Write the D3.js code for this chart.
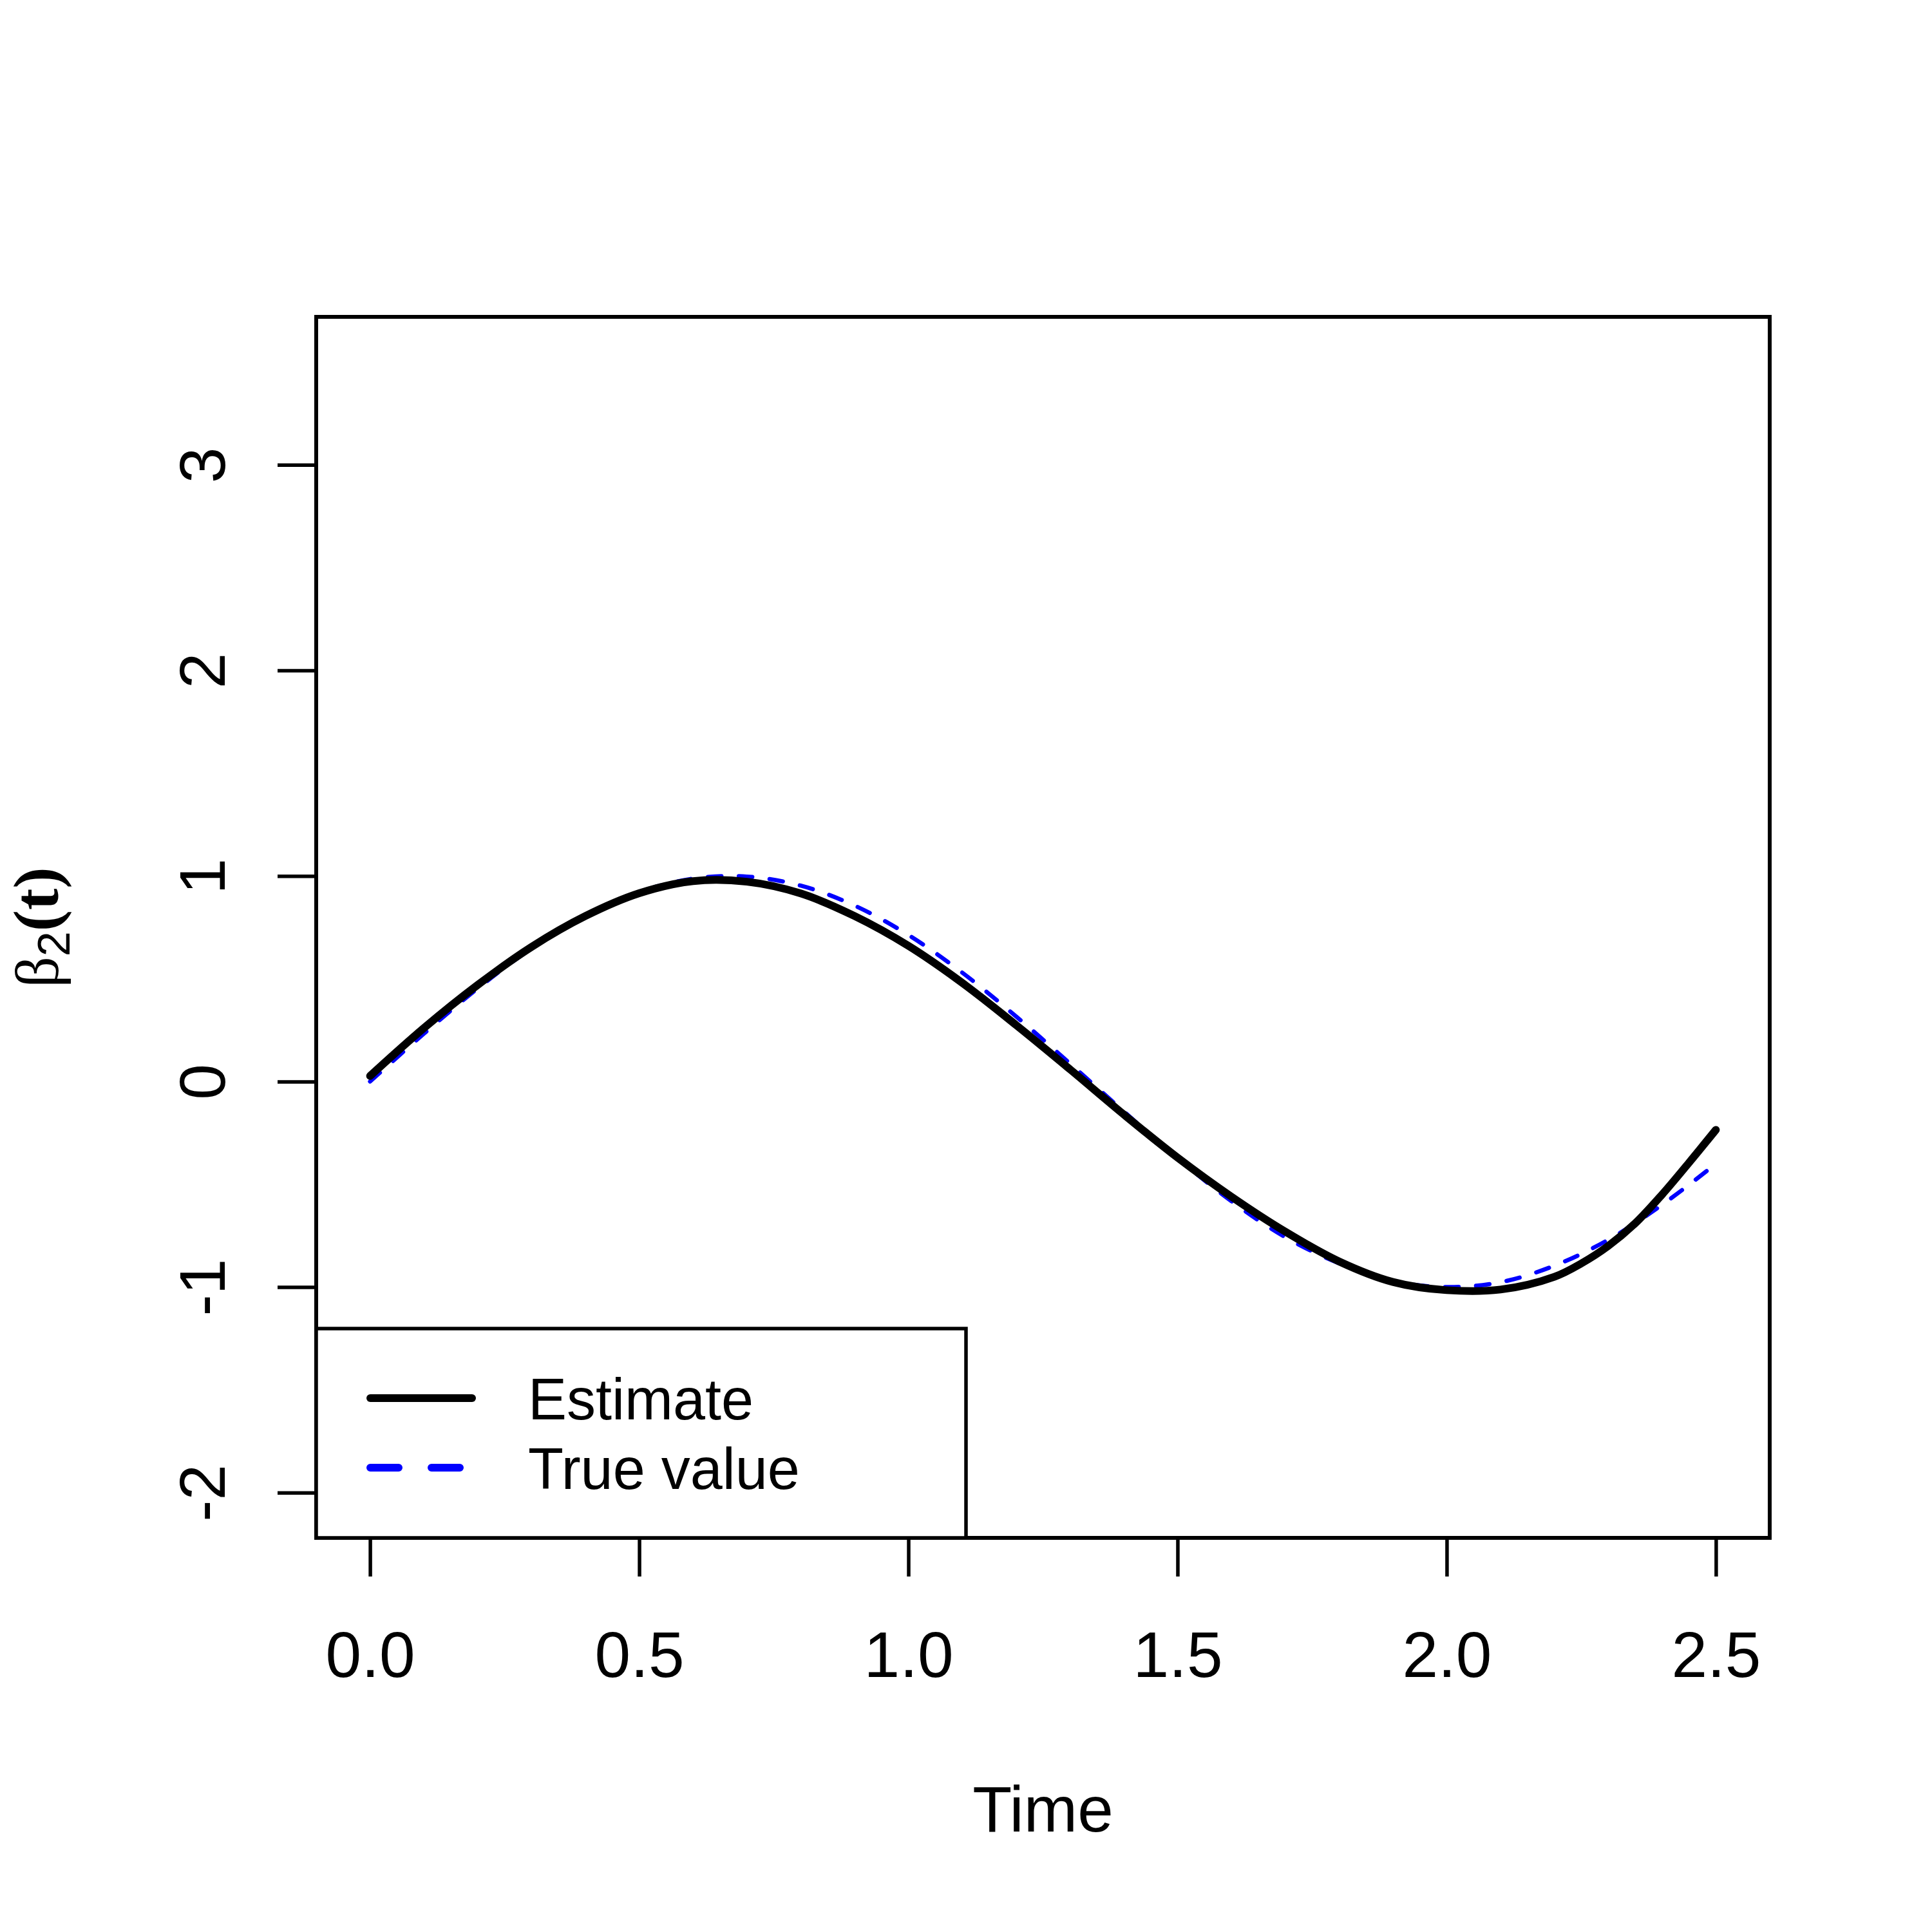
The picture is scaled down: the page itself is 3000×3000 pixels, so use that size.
<!DOCTYPE html>
<html>
<head>
<meta charset="utf-8">
<script src="https://cdn.jsdelivr.net/npm/d3@7"></script>
<style>
html,body{margin:0;padding:0;background:#fff;}
svg{display:block;}
</style>
</head>
<body>
<svg id="chart" width="3000" height="3000"></svg>
<script>
// ---- data ----
const timeEstimate = [0.0,0.1,0.2,0.3,0.4,0.5,0.6,0.7,0.8,0.9,1.0,1.1,1.2,1.3,1.4,1.5,1.6,1.7,1.8,1.9,2.0,2.1,2.2,2.25,2.3,2.35,2.4,2.45,2.5];
const estimateValues = [0.027,0.26,0.47,0.655,0.805,0.916,0.975,0.972,0.915,0.805,0.66,0.48,0.275,0.06,-0.16,-0.37,-0.56,-0.73,-0.875,-0.975,-1.015,-1.012,-0.95,-0.885,-0.80,-0.69,-0.55,-0.395,-0.235];
const timeTrue = [0.0,0.1,0.2,0.3,0.4,0.5,0.6,0.7,0.8,0.9,1.0,1.1,1.2,1.3,1.4,1.5,1.6,1.7,1.8,1.9,2.0,2.1,2.2,2.3,2.4,2.5];
const trueValues = [0.0,0.233,0.453,0.648,0.807,0.922,0.987,0.997,0.953,0.856,0.713,0.53,0.317,0.088,-0.145,-0.373,-0.582,-0.757,-0.884,-0.97,-1.0,-0.976,-0.896,-0.77,-0.6,-0.4];
const xTicks = [0.0,0.5,1.0,1.5,2.0,2.5];
const xTickLabels = ["0.0","0.5","1.0","1.5","2.0","2.5"];
const yTicks = [-2,-1,0,1,2,3];
const yTickLabels = ["-2","-1","0","1","2","3"];
const xLimits = [0, 2.5];
const yLimits = [-2, 3.5];
const legendLabels = ["Estimate","True value"];
const xLabel = "Time";

// ---- layout ----
const W = 3000, H = 3000;
const plotL = 491, plotR = 2748, plotT = 492, plotB = 2388;
const svg = d3.select("#chart");
svg.append("rect").attr("width",W).attr("height",H).attr("fill","#fff");

const xPad = (xLimits[1]-xLimits[0])*0.04, yPad = (yLimits[1]-yLimits[0])*0.04;
const x = d3.scaleLinear().domain([xLimits[0]-xPad, xLimits[1]+xPad]).range([plotL, plotR]);
const y = d3.scaleLinear().domain([yLimits[0]-yPad, yLimits[1]+yPad]).range([plotB, plotT]);

const sans = "'Liberation Sans', Arial, Helvetica, sans-serif";

// x axis
const gx = svg.append("g").attr("transform",`translate(0,${plotB})`)
  .call(d3.axisBottom(x).tickValues(xTicks).tickSize(60).tickSizeOuter(0)
    .tickFormat((d,i)=>xTickLabels[i]));
gx.select(".domain").remove();
gx.selectAll(".tick line").attr("stroke","#000").attr("stroke-width",5.5);
gx.selectAll(".tick text").attr("y",216).attr("dy",0).attr("fill","#000")
  .style("font-family",sans).style("font-size","100px");

// y axis
const gy = svg.append("g").attr("transform",`translate(${plotL},0)`)
  .call(d3.axisLeft(y).tickValues(yTicks).tickSize(60).tickSizeOuter(0)
    .tickFormat((d,i)=>yTickLabels[i]));
gy.select(".domain").remove();
gy.selectAll(".tick line").attr("stroke","#000").attr("stroke-width",5.5);
gy.selectAll(".tick text").attr("x",0).attr("y",0).attr("dy",0)
  .attr("transform","translate(-142,0) rotate(-90)")
  .attr("text-anchor","middle").attr("fill","#000")
  .style("font-family",sans).style("font-size","100px");

// lines
const line = d3.line().x(d=>x(d[0])).y(d=>y(d[1])).curve(d3.curveCatmullRom.alpha(0.5));
svg.append("path").datum(timeTrue.map((t,i)=>[t,trueValues[i]]))
  .attr("d",line).attr("fill","none").attr("stroke","#0000ff").attr("stroke-width",6.5)
  .attr("stroke-dasharray","21 27").attr("stroke-linecap","round").attr("stroke-linejoin","round");
svg.append("path").datum(timeEstimate.map((t,i)=>[t,estimateValues[i]]))
  .attr("d",line).attr("fill","none").attr("stroke","#000").attr("stroke-width",12)
  .attr("stroke-linecap","round").attr("stroke-linejoin","round");

// plot box
svg.append("rect").attr("x",plotL).attr("y",plotT).attr("width",plotR-plotL).attr("height",plotB-plotT)
  .attr("fill","none").attr("stroke","#000").attr("stroke-width",6);

// legend
const legX0 = plotL, legY0 = 2063, legX1 = 1500, legY1 = plotB;
svg.append("rect").attr("x",legX0).attr("y",legY0).attr("width",legX1-legX0).attr("height",legY1-legY0)
  .attr("fill","#fff").attr("stroke","#000").attr("stroke-width",5.5);
const legRows = [2171, 2279];
const legStyles = [{c:"#000",dash:null},{c:"#0000ff",dash:"44 51"}];
legendLabels.forEach((lab,i)=>{
  const ln = svg.append("line").attr("x1",575).attr("x2",733).attr("y1",legRows[i]).attr("y2",legRows[i])
    .attr("stroke",legStyles[i].c).attr("stroke-width",12).attr("stroke-linecap","round");
  if(legStyles[i].dash) ln.attr("stroke-dasharray",legStyles[i].dash);
  svg.append("text").attr("x",820).attr("y",legRows[i]+33).text(lab)
    .style("font-family",sans).style("font-size","90px").attr("fill","#000");
});

// axis titles
svg.append("text").attr("x",(plotL+plotR)/2).attr("y",2844).attr("text-anchor","middle")
  .style("font-family",sans).style("font-size","100px").attr("fill","#000").text(xLabel);

const yl = svg.append("text").attr("transform",`translate(90,${(plotT+plotB)/2}) rotate(-90)`)
  .attr("text-anchor","middle").attr("fill","#000");
yl.append("tspan").style("font-family","'Liberation Serif','DejaVu Serif',serif").style("font-size","95px").text("β");
yl.append("tspan").attr("dy",18).style("font-family",sans).style("font-size","70px").text("2");
yl.append("tspan").attr("dy",-18).style("font-family","'Liberation Serif','Times New Roman',serif")
  .style("font-weight","bold").style("font-size","100px").text("(t)");
</script>
</body>
</html>
